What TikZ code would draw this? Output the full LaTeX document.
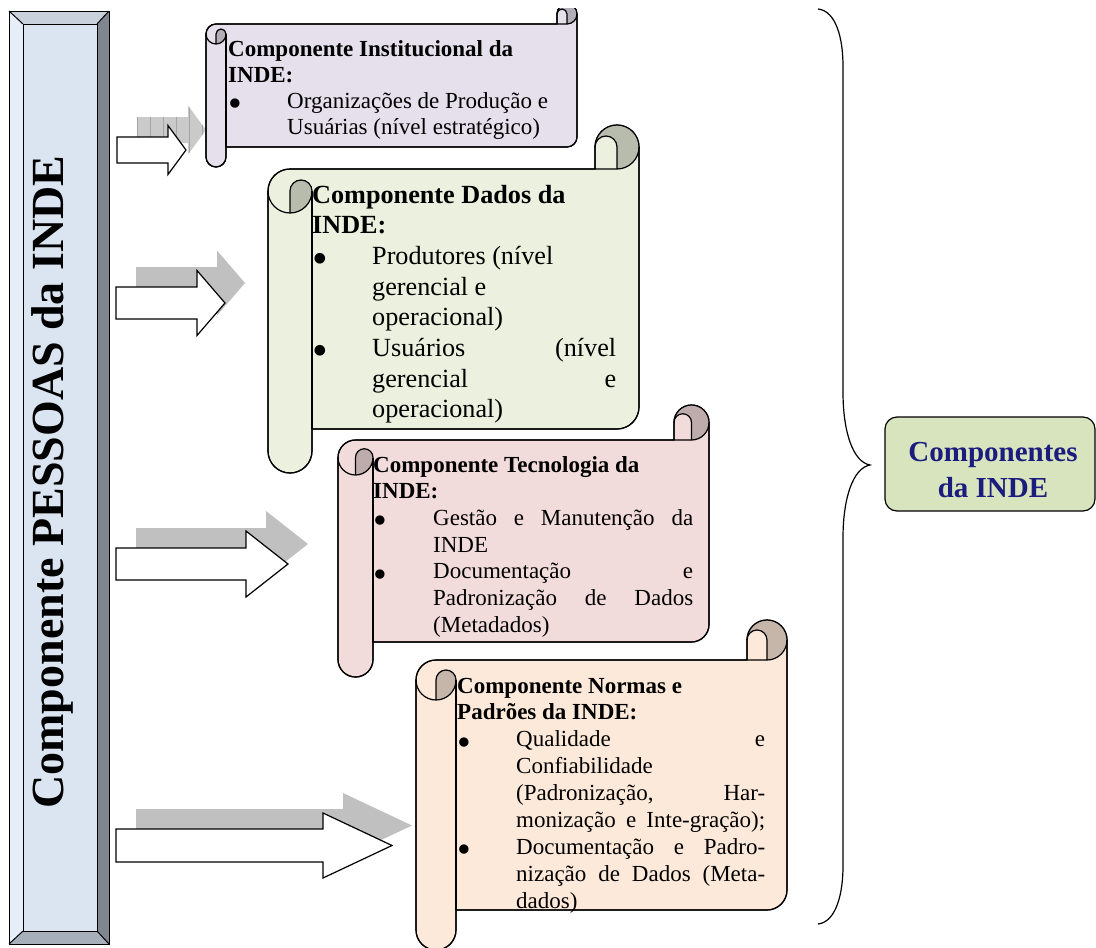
\documentclass[tikz,border=0pt]{standalone}
\usepackage{fontspec}
\setmainfont{Liberation Serif}
\definecolor{barin}{HTML}{DBE5F1}
\definecolor{bartop}{HTML}{C9D1DC}
\definecolor{barleft}{HTML}{E8EEF7}
\definecolor{barright}{HTML}{7F868F}
\definecolor{barbot}{HTML}{A7AFBA}
\definecolor{sone}{HTML}{E5E0EC}
\definecolor{stwo}{HTML}{EBF1DE}
\definecolor{sthree}{HTML}{F2DCDB}
\definecolor{sfour}{HTML}{FDE9D9}
\definecolor{boxgreen}{HTML}{D7E4BD}
\definecolor{navytext}{HTML}{1C1C7E}
\definecolor{shadowgray}{HTML}{C0C0C0}
\definecolor{gridgray}{HTML}{A4A4A4}
\definecolor{gridfill}{HTML}{CACACA}

\newcommand\bigbul{\raisebox{-0.36em}{\scalebox{1.7}{\textbullet}}}

\newcommand\scrollshape[6]{%
 \pgfmathsetmacro\scL{#1}\pgfmathsetmacro\scT{#2}\pgfmathsetmacro\scR{#3}%
 \pgfmathsetmacro\scB{#4}\pgfmathsetmacro\scC{#5}%
 \pgfmathsetmacro\scH{\scC/2}\pgfmathsetmacro\scQ{\scC/4}%
 \pgfmathsetmacro\yyA{\scT+\scC}%
 \pgfmathsetmacro\yyB{\scT+\scH}%
 \pgfmathsetmacro\yyC{\scT+1.5*\scC}%
 \pgfmathsetmacro\yyD{\scT+2*\scC}%
 \pgfmathsetmacro\yyF{\scB-\scC}%
 \pgfmathsetmacro\yyG{\scB-\scH}%
 \pgfmathsetmacro\yyE{\yyF-\scH}%
 \pgfmathsetmacro\xxC{\scR-\scC}%
 \pgfmathsetmacro\xxD{\scR-\scH}%
 \pgfmathsetmacro\xxA{\scL+\scH}%
 \pgfmathsetmacro\xxB{\scL+\scC}%
 \path[fill=#6,draw=black,scrollline] (\scL,\yyC) arc[start angle=180,end angle=270,radius=\scH]
   -- (\xxC,\yyA) -- (\xxC,\yyB) arc[start angle=180,end angle=360,radius=\scH]
   -- (\scR,\yyE) arc[start angle=0,end angle=90,radius=\scH]
   -- (\xxB,\yyF) -- (\xxB,\yyG) arc[start angle=0,end angle=180,radius=\scH] -- cycle;
 \fill[#6!78!black] (\xxA,\yyD) arc[start angle=90,end angle=0,radius=\scH]
   arc[start angle=0,end angle=-180,radius=\scQ] -- cycle;
 \fill[#6!78!black] (\xxD,\yyA) arc[start angle=90,end angle=-180,radius=\scH]
   arc[start angle=180,end angle=360,radius=\scQ] -- cycle;
 \draw[scrollline] (\xxC,\yyA) -- (\xxD,\yyA) arc[start angle=90,end angle=0,radius=\scH];
 \draw[scrollline] (\xxD,\yyA) -- (\xxD,\yyB) arc[start angle=0,end angle=-180,radius=\scQ];
 \draw[scrollline] (\xxA,\yyD) -- (\xxA,\yyC) arc[start angle=180,end angle=360,radius=\scQ]
   arc[start angle=0,end angle=180,radius=\scH];
 \draw[scrollline] (\xxB,\yyC) -- (\xxB,\yyF);
 \draw[scrollline] (\scL,\yyC) arc[start angle=180,end angle=270,radius=\scH]
   -- (\xxC,\yyA) -- (\xxC,\yyB) arc[start angle=180,end angle=360,radius=\scH]
   -- (\scR,\yyE) arc[start angle=0,end angle=90,radius=\scH]
   -- (\xxB,\yyF) -- (\xxB,\yyG) arc[start angle=0,end angle=180,radius=\scH] -- cycle;
}

\newcommand\blockarrow[7]{%
 \path[#7] (#1,#2-#3/2) -- (#4,#2-#3/2) -- (#4,#2-#5/2) -- (#6,#2)
   -- (#4,#2+#5/2) -- (#4,#2+#3/2) -- (#1,#2+#3/2) -- cycle;}

\tikzset{
  scrollline/.style={line width=1.2pt, line join=round},
  whitearrow/.style={fill=white, draw=black, line width=1.2pt, line join=miter},
  shadowarrow/.style={fill=shadowgray},
  scrolltext/.style={anchor=base west, inner sep=0pt, align=left},
  bevelline/.style={draw=black, line width=1pt},
}

\begin{document}
\begin{tikzpicture}[x=1pt,y=-1pt]
\useasboundingbox (0,0) rectangle (1096,948);
\begin{scope}
\clip (0,8) rectangle (1096,948);

% left bevel bar
\fill[barin] (23,24) rectangle (97,931);
\fill[bartop] (9,11) -- (109,11) -- (97,24) -- (23,24) -- cycle;
\fill[barleft] (9,11) -- (23,24) -- (23,931) -- (9,944) -- cycle;
\fill[barright] (109,11) -- (109,944) -- (97,931) -- (97,24) -- cycle;
\fill[barbot] (9,944) -- (109,944) -- (97,931) -- (23,931) -- cycle;
\draw[bevelline] (9,11) rectangle (109,944);
\draw[bevelline] (23,24) rectangle (97,931);
\draw[bevelline] (9,11) -- (23,24) (109,11) -- (97,24) (9,944) -- (23,931) (109,944) -- (97,931);
\node (barlabel) [rotate=90, anchor=base, inner sep=0pt,
  font=\bfseries\fontsize{46}{50}\selectfont] at (63,482) {Componente PESSOAS da INDE};

% arrow shadows
\begin{scope}[shift={(20,-20)}]
  \begin{scope}
    \clip (117,150-13) -- (168,150-13) -- (168,150-24.5) -- (186,150) -- (168,150+24.5) -- (168,150+13) -- (117,150+13) -- cycle;
    \fill[gridfill] (100,100) rectangle (220,200);
    \draw[gridgray, line width=0.9pt, step=13] (100,100) grid (220,200);
  \end{scope}
  \blockarrow{116}{303}{32}{197}{65}{225}{shadowarrow}
  \blockarrow{116}{564}{32}{246}{66}{288}{shadowarrow}
  \blockarrow{116}{845.5}{33}{323}{65}{392}{shadowarrow}
\end{scope}
\blockarrow{117}{150}{26}{168}{49}{186}{whitearrow}
\blockarrow{116}{303}{32}{197}{65}{225}{whitearrow}
\blockarrow{116}{564}{32}{246}{66}{288}{whitearrow}
\blockarrow{116}{845.5}{33}{323}{65}{392}{whitearrow}

% scrolls
\scrollshape{206}{4}{577}{167}{20}{sone}
\scrollshape{268}{125}{639}{473}{44}{stwo}
\scrollshape{338}{405}{709}{677}{35}{sthree}
\scrollshape{416}{620}{787}{950}{40}{sfour}

\node (s1text) [scrolltext, font=\fontsize{23}{26.3}\selectfont] at (228,56) {\parbox[t]{400pt}{%
\textbf{Componente Institucional da}\\
\textbf{INDE:}\\
\makebox[59pt][l]{\bigbul}Organizações de Produção e\\
\hspace*{59pt}Usuárias (nível estratégico)}};

\node (s2text) [scrolltext, font=\fontsize{26.2}{30.7}\selectfont] at (312,203) {\parbox[t]{400pt}{%
\textbf{Componente Dados da}\\
\textbf{INDE:}\\
\makebox[60pt][l]{\bigbul}Produtores (nível\\
\hspace*{60pt}gerencial e\\
\hspace*{60pt}operacional)\\
\makebox[60pt][l]{\bigbul}\makebox[244pt][s]{Usuários (nível}\\
\hspace*{60pt}\makebox[244pt][s]{gerencial e}\\
\hspace*{60pt}operacional)}};

\node (s3text) [scrolltext, font=\fontsize{23}{26.7}\selectfont] at (373,472) {\parbox[t]{400pt}{%
\textbf{Componente Tecnologia da}\\
\textbf{INDE:}\\
\makebox[60pt][l]{\bigbul}\makebox[260pt][s]{Gestão e Manutenção da}\\
\hspace*{60pt}INDE\\
\makebox[60pt][l]{\bigbul}\makebox[260pt][s]{Documentação e}\\
\hspace*{60pt}\makebox[260pt][s]{Padronização de Dados}\\
\hspace*{60pt}(Metadados)}};

\node (s4text) [scrolltext, font=\fontsize{23}{26.9}\selectfont] at (457,693) {\parbox[t]{400pt}{%
\textbf{Componente Normas e}\\
\textbf{Padrões da INDE:}\\
\makebox[59pt][l]{\bigbul}\makebox[249pt][s]{Qualidade e}\\
\hspace*{59pt}Confiabilidade\\
\hspace*{59pt}\makebox[249pt][s]{(Padronização, Har-}\\
\hspace*{59pt}\makebox[249pt][s]{monização e Inte-gração);}\\
\makebox[59pt][l]{\bigbul}\makebox[249pt][s]{Documentação e Padro-}\\
\hspace*{59pt}\makebox[249pt][s]{nização de Dados (Meta-}\\
\hspace*{59pt}dados)}};

% brace
\coordinate (bracetop) at (818,9);
\coordinate (bracetip) at (870,465);
\coordinate (bracebot) at (818,924);
\draw[line width=1.2pt] (bracetop) .. controls (836,11) and (843,38) .. (843,66)
  -- (843,392) .. controls (843,432) and (853,462) .. (bracetip)
  .. controls (853,468) and (843,498) .. (843,538)
  -- (843,866) .. controls (843,894) and (836,922) .. (bracebot);

% result box
\node (compbox) [draw=black, line width=1.2pt, rounded corners=12pt, fill=boxgreen,
  minimum width=210pt, minimum height=94pt, inner sep=0pt] at (990,464) {};
\node (boxlabel) [anchor=base, inner sep=0pt, text=navytext,
  font=\bfseries\fontsize{29}{36}\selectfont] at (993,461)
  {\parbox[t]{210pt}{\centering Componentes\\da INDE}};
\end{scope}
\end{tikzpicture}
\end{document}
